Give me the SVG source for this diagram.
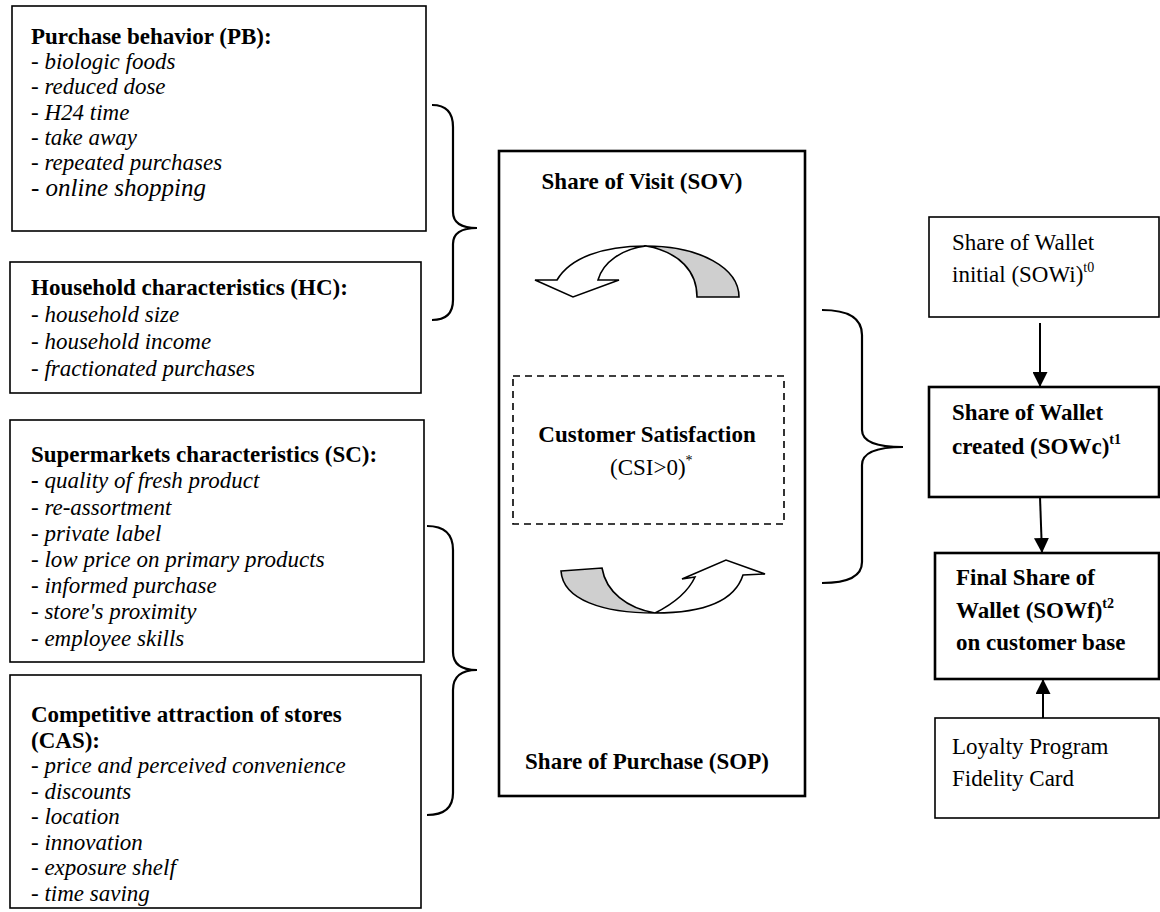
<svg xmlns="http://www.w3.org/2000/svg" width="1160" height="912" viewBox="0 0 1160 912">
<defs>
<style>
.bx{fill:#fff;stroke:#000;stroke-width:1.6}
.thick{fill:#fff;stroke:#000;stroke-width:2.6}
.t{font-family:"Liberation Serif","Times New Roman",serif;font-size:23px;fill:#000}
.b{font-weight:bold}
.i{font-style:italic}
.br{fill:none;stroke:#000;stroke-width:2.2}
.ln{fill:none;stroke:#000;stroke-width:2}
.cw{fill:#fff;stroke:#000;stroke-width:1.6;stroke-linejoin:miter}
.cg{fill:#cfcfcf;stroke:#000;stroke-width:1.6}
</style>
<marker id="ah" viewBox="0 0 10 10" refX="10" refY="5" markerWidth="15" markerHeight="15" markerUnits="userSpaceOnUse" orient="auto"><path d="M0,0 L10,5 L0,10 Z" fill="#000"/></marker>
</defs>
<rect width="1160" height="912" fill="#fff"/>

<g id="pb">
<rect class="bx" x="12" y="6" width="414" height="225"/>
<text class="t b" x="31" y="44">Purchase behavior (PB):</text>
<text class="t i" x="31" y="69">- biologic foods</text>
<text class="t i" x="31" y="94">- reduced dose</text>
<text class="t i" x="31" y="119.5">- H24 time</text>
<text class="t i" x="31" y="145">- take away</text>
<text class="t i" x="31" y="170">- repeated purchases</text>
<text class="t i" x="31" y="196" style="font-size:25px">- online shopping</text>
</g>

<g id="hc">
<rect class="bx" x="10" y="262" width="411" height="131"/>
<text class="t b" x="31" y="295">Household characteristics (HC):</text>
<text class="t i" x="31" y="322">- household size</text>
<text class="t i" x="31" y="349">- household income</text>
<text class="t i" x="31" y="376">- fractionated purchases</text>
</g>

<g id="sc">
<rect class="bx" x="10" y="420" width="414" height="242"/>
<text class="t b" x="31" y="462">Supermarkets characteristics (SC):</text>
<text class="t i" x="31" y="488"><tspan class="b" style="font-style:normal">-</tspan> quality of fresh product</text>
<text class="t i" x="31" y="514.5">- re-assortment</text>
<text class="t i" x="31" y="540.5">- private label</text>
<text class="t i" x="31" y="567">- low price on primary products</text>
<text class="t i" x="31" y="593">- informed purchase</text>
<text class="t i" x="31" y="619">- store's proximity</text>
<text class="t i" x="31" y="645.5">- employee skills</text>
</g>

<g id="cas">
<rect class="bx" x="10" y="675" width="411" height="233"/>
<text class="t b" x="31" y="722">Competitive attraction of stores</text>
<text class="t b" x="31" y="747.5">(CAS):</text>
<text class="t i" x="31" y="773">- price and perceived convenience</text>
<text class="t i" x="31" y="798.5">- discounts</text>
<text class="t i" x="31" y="824">- location</text>
<text class="t i" x="31" y="849.5">- innovation</text>
<text class="t i" x="31" y="875">- exposure shelf</text>
<text class="t i" x="31" y="900.5">- time saving</text>
</g>

<g id="center">
<rect class="thick" x="499" y="151" width="306" height="645"/>
<text class="t b" x="642" y="189" text-anchor="middle">Share of Visit (SOV)</text>
<text class="t b" x="647" y="769" text-anchor="middle">Share of Purchase (SOP)</text>
</g>

<g id="cycle-top">
<path class="cg" d="M646,246 C700,246 739,268 739,297 L697,297 C697,272 680,252 646,246 Z"/>
<path class="cw" d="M598,280 L619,280 L573,297 L535,280 L557,280 C570,258 602,246 646,246 C622,249 603,262 598,280 Z"/>
</g>

<g id="cycle-bottom">
<path class="cg" d="M561,571 L602,568 C606,592 627,608 655,613 C603,613 563,600 561,571 Z"/>
<path class="cw" d="M655,613 C675,603 689,590 695,577 L682,579 L726,560 L765,574 L743,575 C735,600 705,613 655,613 Z"/>
</g>

<g id="csi">
<rect x="513" y="376" width="271" height="148" fill="none" stroke="#000" stroke-width="1.6" stroke-dasharray="7,5"/>
<text class="t b" x="647" y="442" text-anchor="middle">Customer Satisfaction</text>
<text class="t" x="610" y="475">(CSI&gt;0)<tspan dy="-10" style="font-size:14px">*</tspan></text>
</g>

<g id="sowi">
<rect class="bx" x="929" y="217" width="230" height="100"/>
<text class="t" x="952" y="250">Share of Wallet</text>
<text class="t" x="952" y="282">initial (SOWi)<tspan dy="-10" style="font-size:14px">t0</tspan></text>
</g>

<g id="sowc">
<rect class="thick" x="929" y="387" width="230" height="110"/>
<text class="t b" x="952" y="420">Share of Wallet</text>
<text class="t b" x="952" y="454">created (SOWc)<tspan dy="-10" style="font-size:14px">t1</tspan></text>
</g>

<g id="sowf">
<rect class="thick" x="935" y="553" width="224" height="126"/>
<text class="t b" x="956" y="585">Final Share of</text>
<text class="t b" x="956" y="618">Wallet (SOWf)<tspan dy="-10" style="font-size:14px">t2</tspan></text>
<text class="t b" x="956" y="650">on customer base</text>
</g>

<g id="loyalty">
<rect class="bx" x="935" y="718" width="224" height="100"/>
<text class="t" x="952" y="754">Loyalty Program</text>
<text class="t" x="952" y="786">Fidelity Card</text>
</g>

<g id="connectors">
<path class="br" d="M432,105 Q453,105 453,127 L453,212 Q453,228 477,228 Q453,228 453,244 L453,300 Q453,320 432,320"/>
<path class="br" d="M427,526 Q453,526 453,550 L453,652 Q453,670 477,670 Q453,670 453,690 L453,793 Q453,815 427,815"/>
<path class="br" d="M822,310 Q862,310 862,335 L862,430 Q862,447 903,447 Q862,447 862,465 L862,562 Q862,583 822,583"/>
<line class="ln" x1="1040" y1="323" x2="1040" y2="387" marker-end="url(#ah)"/>
<line class="ln" x1="1040" y1="497" x2="1042" y2="553" marker-end="url(#ah)"/>
<line class="ln" x1="1043" y1="718" x2="1043" y2="679" marker-end="url(#ah)"/>
</g>
</svg>
